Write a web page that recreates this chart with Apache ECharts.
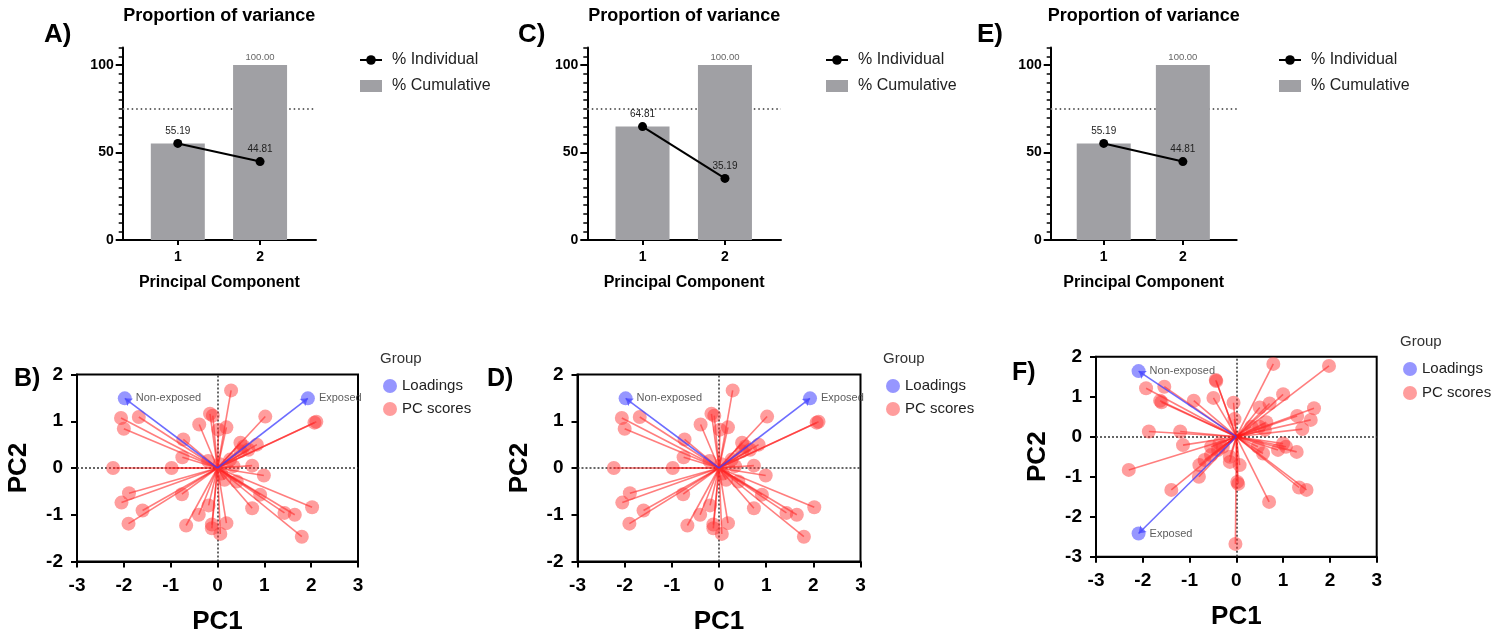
<!DOCTYPE html>
<html>
<head>
<meta charset="utf-8">
<script src="https://cdn.jsdelivr.net/npm/echarts@6.0.0/dist/echarts.min.js"></script>
<style>
html, body { margin: 0; padding: 0; background: #fff; }
#chart { width: 1502px; height: 640px; }
</style>
</head>
<body>
<div id="chart"></div>
<script>
// proportion of variance (panels A, C, E)
var pcs = [1, 2];
var individualA = [55.19, 44.81];
var cumulativeA = [55.19, 100.00];
var individualC = [64.81, 35.19];
var cumulativeC = [64.81, 100.00];
var individualE = [55.19, 44.81];
var cumulativeE = [55.19, 100.00];
var cutoff = 75;

// biplots (panels B, D, F)
var loadingNames = ['Non-exposed', 'Exposed'];
var loadingsBX = [-1.98, 1.93];
var loadingsBY = [1.49, 1.49];
var scoresBX = [0.29, -0.16, -0.10, -0.39, 0.19, 0.02, 1.02, -0.73, -0.75, 0.49, 0.56, 0.84, 0.66, 0.49, 0.27,
  -0.98, 0.74, 0.99, 0.15, 0.41, -0.76, 0.91, -0.19, -0.40, 0.74, -0.67, -0.12, -0.12, 0.19, 0.06,
  1.43, 1.65, 1.80, -2.06, -1.68, -2.00, -2.23, -1.89, -2.05, -1.60, -1.90, 2.11, 2.07, 2.02, 0.34,
  0.08, -0.20, 0.05];
var scoresBY = [1.66, 1.16, 1.12, 0.93, 0.87, 0.82, 1.10, 0.61, 0.23, 0.54, 0.46, 0.50, 0.39, 0.36, 0.18,
  0.00, 0.05, -0.16, -0.25, -0.29, -0.56, -0.57, -0.80, -1.00, -0.86, -1.23, -1.21, -1.29, -1.18, -1.41,
  -0.96, -1.00, -1.47, 1.07, 1.09, 0.84, 0.00, -0.54, -0.74, -0.91, -1.19, 0.99, 0.97, -0.84, 0.04,
  -0.12, 0.15, 0.08];
// panel D shows the same scores and loadings as panel B
var loadingsDX = loadingsBX.slice();
var loadingsDY = loadingsBY.slice();
var scoresDX = scoresBX.slice();
var scoresDY = scoresBY.slice();

var loadingsFX = [-2.09, -2.09];
var loadingsFY = [1.64, -2.42];
var scoresFX = [-1.93, -1.54, -1.63, -1.60, -0.91, -0.44, -0.43, -0.49, -0.06, -0.04, -1.87, -1.20, -1.14,
  -2.30, -1.39, -0.80, -0.79, -0.68, -0.54, -0.39, -0.29, -0.14, -0.14, 0.07, 0.02, 0.04, -0.02,
  0.79, 1.98, 1.00, 0.50, 0.71, 1.66, 1.30, 1.59, 1.41, 0.64, 0.49, 0.61, 0.32, 1.00, 1.06, 0.89,
  1.29, 0.46, 0.57, 0.70, 1.34, 1.50, -0.36, -0.54];
var scoresFY = [1.21, 1.25, 0.90, 0.86, 0.90, 1.42, 1.39, 0.97, 0.85, 0.44, 0.13, 0.13, -0.21,
  -0.83, -1.33, -1.00, -0.71, -0.58, -0.46, -0.33, -0.25, -0.50, -0.63, -0.71, -1.13, -1.18, -2.68,
  1.82, 1.77, 1.06, 0.73, 0.83, 0.71, 0.52, 0.42, 0.19, 0.36, 0.25, 0.17, 0.25, -0.17, -0.25, -0.33,
  -0.38, -0.25, -0.42, -1.63, -1.27, -1.33, -0.17, -0.25];

var FONT = '"Liberation Sans", Arial, sans-serif';
var myChart = echarts.init(document.getElementById('chart'));

var grids = [], xAxes = [], yAxes = [], series = [], legends = [], graphics = [];

function addText(str, x, y, size, weight, align, color) {
  graphics.push({
    type: 'text', x: x, y: y, silent: true,
    style: {
      text: str, fontSize: size, fontWeight: weight, fontFamily: FONT,
      fill: color || '#000',
      align: align, verticalAlign: 'middle',
      textAlign: align, textVerticalAlign: 'middle'
    }
  });
}

function blackLine(w) {
  return { color: '#000', width: w };
}

function variancePanel(left, width, individual, cumulative, legendLeft) {
  var gi = grids.length;
  grids.push({ left: left, top: 47.5, width: width, height: 192.5 });
  var xi = xAxes.length;
  xAxes.push({
    gridIndex: gi, type: 'value', min: 0.33, max: 2.68,
    name: 'Principal Component', nameLocation: 'middle', nameGap: 35,
    nameTextStyle: { fontSize: 16, fontWeight: 'bold', color: '#000', fontFamily: FONT },
    axisLine: { onZero: false, lineStyle: blackLine(2) },
    axisTick: { customValues: pcs, length: 5, lineStyle: blackLine(2) },
    axisLabel: { customValues: pcs, fontSize: 14, fontWeight: 'bold', color: '#000', fontFamily: FONT, margin: 10 },
    splitLine: { show: false }
  });
  var yi = yAxes.length;
  yAxes.push({
    gridIndex: gi, type: 'value', position: 'left', min: 0, max: 110,
    axisLine: { onZero: false, lineStyle: blackLine(2) },
    axisTick: { customValues: [0, 50, 100], length: 7, lineStyle: blackLine(2) },
    axisLabel: { customValues: [0, 50, 100], fontSize: 14, fontWeight: 'bold', color: '#000', fontFamily: FONT, margin: 9 },
    splitLine: { show: false }
  });
  // minor ticks every 5
  yAxes.push({
    gridIndex: gi, type: 'value', position: 'left', min: 0, max: 110, interval: 5,
    axisLine: { show: false, onZero: false },
    axisTick: { length: 4, lineStyle: blackLine(1.5) },
    axisLabel: { show: false },
    splitLine: { show: false }
  });
  series.push({
    type: 'bar', name: '% Cumulative', xAxisIndex: xi, yAxisIndex: yi, barWidth: 54, z: 2,
    data: pcs.map(function (p, i) { return [p, cumulative[i]]; }),
    itemStyle: { color: '#a0a0a4' },
    label: {
      show: true, position: 'top', distance: 3, fontSize: 9.5, color: '#666', fontFamily: FONT,
      formatter: function (p) { return p.dataIndex === 0 ? '' : p.value[1].toFixed(2); }
    },
    markLine: {
      z: 1, silent: true, symbol: ['none', 'none'],
      label: { show: false },
      lineStyle: { color: '#666', type: [1.5, 3], width: 2 },
      data: [{ yAxis: cutoff }]
    }
  });
  series.push({
    type: 'line', name: '% Individual', xAxisIndex: xi, yAxisIndex: yi, z: 3,
    data: pcs.map(function (p, i) { return [p, individual[i]]; }),
    color: '#000',
    lineStyle: { color: '#000', width: 2 },
    symbol: 'circle', symbolSize: 9,
    itemStyle: { color: '#000' },
    label: {
      show: true, position: 'top', distance: 3, fontSize: 10, color: '#222', fontFamily: FONT,
      formatter: function (p) { return p.value[1].toFixed(2); }
    }
  });
  legends.push({
    left: legendLeft, top: 52, orient: 'vertical', padding: 0,
    itemWidth: 22, itemHeight: 12, itemGap: 10,
    data: [{ name: '% Individual' }, { name: '% Cumulative', icon: 'rect' }],
    textStyle: { fontSize: 16, color: '#222', fontFamily: FONT, padding: [0, 0, 0, 5] }
  });
  addText('Proportion of variance', left + width / 2, 16, 18, 'bold', 'center');
}

function biplot(rect, yMin, sx, sy, lx, ly, legendPos) {
  var gi = grids.length;
  grids.push({
    left: rect[0], top: rect[1], width: rect[2], height: rect[3],
    show: true, borderColor: '#000', borderWidth: 2, backgroundColor: 'transparent'
  });
  var xi = xAxes.length, yi = yAxes.length;
  var labelStyle = { fontSize: 19, fontWeight: 'bold', color: '#000', fontFamily: FONT };
  var nameStyle = { fontSize: 26, fontWeight: 'bold', color: '#000', fontFamily: FONT };
  xAxes.push({
    gridIndex: gi, type: 'value', min: -3, max: 3, interval: 1,
    name: 'PC1', nameLocation: 'middle', nameGap: 47, nameTextStyle: nameStyle,
    axisLine: { onZero: false, lineStyle: blackLine(2) },
    axisTick: { length: 6, lineStyle: blackLine(2) },
    axisLabel: Object.assign({ margin: 15 }, labelStyle),
    splitLine: { show: false }
  });
  yAxes.push({
    gridIndex: gi, type: 'value', position: 'left', min: yMin, max: 2, interval: 1,
    name: 'PC2', nameLocation: 'middle', nameGap: 45, nameRotate: 90, nameTextStyle: nameStyle,
    axisLine: { onZero: false, lineStyle: blackLine(2) },
    axisTick: { length: 6, lineStyle: blackLine(2) },
    axisLabel: Object.assign({ margin: 14 }, labelStyle),
    splitLine: { show: false }
  });
  series.push({
    type: 'lines', name: 'score vectors', coordinateSystem: 'cartesian2d',
    xAxisIndex: xi, yAxisIndex: yi, silent: true, z: 2,
    symbol: ['none', 'none'],
    lineStyle: { color: 'rgba(255, 20, 20, 0.55)', width: 1.6, opacity: 1 },
    data: sx.map(function (x, i) { return { coords: [[0, 0], [x, sy[i]]] }; })
  });
  series.push({
    type: 'scatter', name: 'PC scores', xAxisIndex: xi, yAxisIndex: yi, z: 3,
    symbolSize: 14,
    itemStyle: { color: 'rgba(255, 50, 50, 0.6)' },
    data: sx.map(function (x, i) { return [x, sy[i]]; }),
    markLine: {
      z: 1, silent: true, symbol: ['none', 'none'],
      label: { show: false },
      lineStyle: { color: '#333', type: [2, 2], width: 1.5 },
      data: [{ xAxis: 0 }, { yAxis: 0 }]
    }
  });
  series.push({
    type: 'lines', name: 'loading vectors', coordinateSystem: 'cartesian2d',
    xAxisIndex: xi, yAxisIndex: yi, silent: true, z: 4,
    symbol: ['none', 'arrow'], symbolSize: 7,
    lineStyle: { color: 'rgba(60, 60, 255, 0.75)', width: 1.6, opacity: 1 },
    data: lx.map(function (x, i) { return { coords: [[0, 0], [x, ly[i]]] }; })
  });
  series.push({
    type: 'scatter', name: 'Loadings', xAxisIndex: xi, yAxisIndex: yi, z: 5,
    symbolSize: 14,
    itemStyle: { color: 'rgba(80, 80, 255, 0.75)' },
    data: lx.map(function (x, i) { return [x, ly[i]]; }),
    label: {
      show: true, position: 'right', distance: 4, fontSize: 11, color: '#333', fontFamily: FONT,
      formatter: function (p) { return loadingNames[p.dataIndex]; }
    }
  });
  legends.push({
    left: legendPos[0], top: legendPos[1], orient: 'vertical', padding: 0,
    itemWidth: 14, itemHeight: 14, itemGap: legendPos[2], icon: 'circle',
    data: ['Loadings', 'PC scores'],
    textStyle: { fontSize: 15, color: '#222', fontFamily: FONT }
  });
  addText('Group', legendPos[0] - 3, legendPos[1] - 20, 15, 'normal', 'left', '#333');
}

variancePanel(122.7, 193.3, individualA, cumulativeA, 359);
variancePanel(587.3, 193.7, individualC, cumulativeC, 825);
variancePanel(1050.7, 186, individualE, cumulativeE, 1278);

biplot([77, 374.5, 281, 187], -2, scoresBX, scoresBY, loadingsBX, loadingsBY, [383, 378.5, 8]);
biplot([577.5, 374.5, 283, 187], -2, scoresDX, scoresDY, loadingsDX, loadingsDY, [886, 378.5, 8]);
biplot([1096, 356.7, 280.7, 200], -3, scoresFX, scoresFY, loadingsFX, loadingsFY, [1403, 361.5, 9]);

addText('A)', 44, 35, 26, 'bold', 'left');
addText('C)', 518, 35, 26, 'bold', 'left');
addText('E)', 977, 35, 26, 'bold', 'left');
addText('B)', 14, 379, 25, 'bold', 'left');
addText('D)', 487, 379, 25, 'bold', 'left');
addText('F)', 1012, 373, 25, 'bold', 'left');

myChart.setOption({
  animation: false,
  textStyle: { fontFamily: FONT },
  grid: grids,
  xAxis: xAxes,
  yAxis: yAxes,
  legend: legends,
  graphic: graphics,
  series: series
});
</script>
</body>
</html>
